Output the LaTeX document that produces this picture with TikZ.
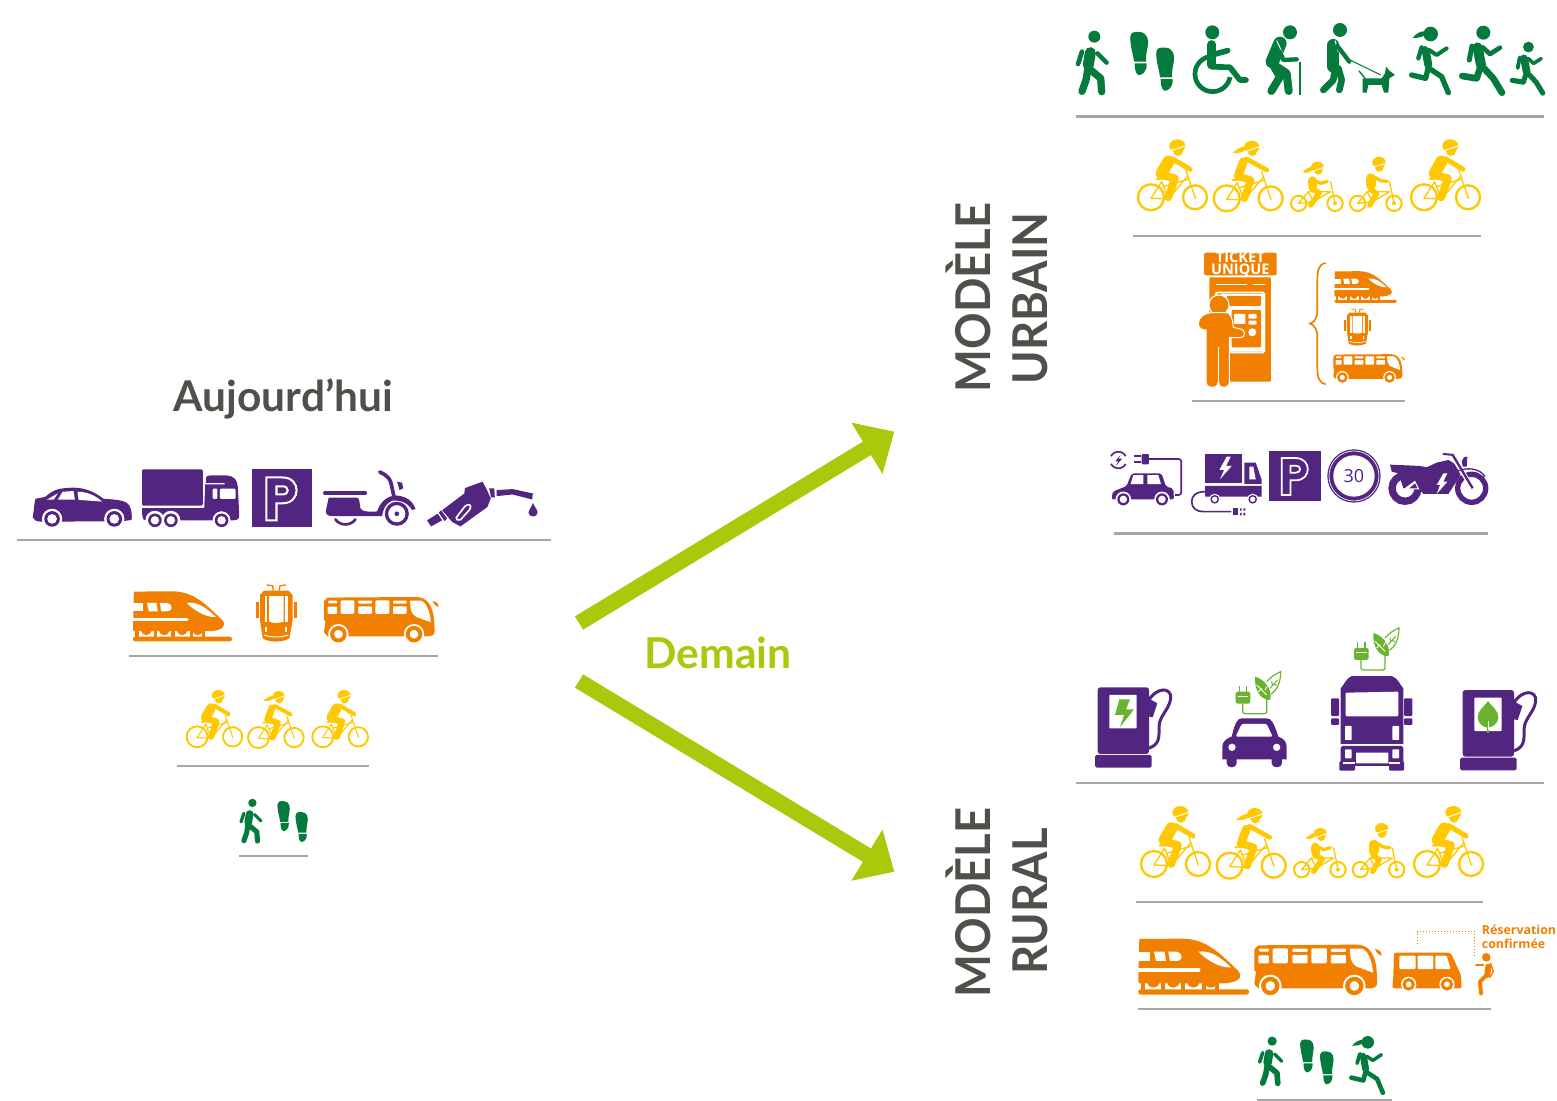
\documentclass[tikz,border=0pt]{standalone}
\usepackage{fontspec}
\setmainfont{Lato}
\newfontfamily\opensans{Open Sans}
\newfontfamily\sidefont[FakeStretch=0.945]{Lato}
\usetikzlibrary{arrows.meta}
\definecolor{purp}{HTML}{522581}
\definecolor{org}{HTML}{F18000}
\definecolor{yel}{HTML}{FFC800}
\definecolor{grn}{HTML}{047A3C}
\definecolor{leafg}{HTML}{69B42E}
\definecolor{arrowg}{HTML}{A9C90C}
\definecolor{txtg}{HTML}{50504B}
\definecolor{rulec}{HTML}{A6A6A6}
\tikzset{
 lw/.style={line width=#1*\icons*0.5pt},
 st/.style={line cap=round,line join=round},
 rc/.code={\pgfmathsetlengthmacro\rr{#1*\icons*0.5pt}\tikzset{rounded corners=\rr}},
 rulel/.style={draw=rulec,line width=1.1pt},
 bigarrow/.style={draw=arrowg,line width=7.8pt,-{Stealth[length=16pt,width=29pt,inset=0pt]}},
 sideword/.style={font=\sidefont\fontsize{24}{28}\selectfont\bfseries,text=txtg,rotate=90,inner sep=0pt,anchor=base},
}
\newcommand\place[4]{\begin{scope}[shift={(#2,#3)},scale=#4]\def\icons{#4}\csname ic#1\endcsname\end{scope}}
\newcommand\org[2]{\tikzset{shift={(-#1,-#2)}}}
% ---------- green figures
\newcommand\icwalk{\org{45}{60}
 \fill[grn] (103,80) circle[radius=18];
 \draw[grn,st,lw=33] (91,128)--(85,165);
 \draw[grn,st,lw=14] (66,125)--(54,162);
 \draw[grn,st,lw=13] (112,130)--(140,158);
 \draw[grn,st,lw=22] (84,175)--(78,210)--(66,244);
 \draw[grn,st,lw=22] (92,180)--(122,205)--(125,245);
}
\newcommand\oneshoe[2]{\begin{scope}[shift={(#1,#2)}]
 \fill[grn] (212,100) .. controls (205,60) and (225,66) .. (238,66) .. controls (262,66) and (268,90) .. (262,115) .. controls (258,135) and (258,145) .. (258,155) -- (222,155) .. controls (220,135) and (214,120) .. (212,100) -- cycle;
 \fill[grn] (224,160) -- (260,160) .. controls (262,185) and (245,197) .. (235,195) .. controls (226,190) and (224,175) .. (224,160) -- cycle;
\end{scope}}
\newcommand\icshoes{\org{210}{65}\oneshoe{0}{0}\oneshoe{78}{47}}
\newcommand\icwheel{\org{397}{45}
 \draw[grn,lw=14] (458,192) circle[radius=53];
 \fill[white] (458,190)--(440,110)--(545,110)--(545,208)--cycle;
 \fill[grn] (457,67) circle[radius=21];
 \draw[grn,st,lw=25] (455,103)--(455,165);
 \draw[grn,st,lw=17] (462,133)--(503,122);
 \draw[grn,st,lw=17] (455,170)--(510,172)--(540,210)--(558,210);
}
\newcommand\icelder{\org{615}{45}
 \fill[grn] (690,67) circle[radius=21];
 \draw[grn,st,lw=40] (660,100)--(637,155);
 \draw[grn,st,lw=24] (642,170)--(660,200)--(634,243);
 \draw[grn,st,lw=24] (650,170)--(680,190)--(686,243);
 \draw[white,lw=3] (650,92)--(668,130)--(675,150);
 \draw[grn,st,lw=13] (660,125)--(670,150)--(710,148);
 \draw[grn,lw=5] (720,155)--(720,255);
}
\newcommand\icdog{\org{780}{40}
 \fill[grn] (840,60) circle[radius=21];
 \draw[grn,st,lw=36] (820,105)--(820,170);
 \draw[grn,st,lw=20] (825,175)--(820,210)--(790,240);
 \draw[grn,st,lw=20] (835,175)--(845,210)--(838,240);
 \draw[white,lw=3] (825,92)--(835,125);
 \draw[grn,st,lw=13] (832,108)--(868,155);
 \draw[grn,lw=3] (870,150)--(962,195);
 \draw[grn,st,lw=4] (897,183)--(915,205);
 \fill[grn] (908,205)--(965,205)--(975,190)--(978,170)--(988,182)--(1005,195)--(988,205)--(985,248)--(972,248)--(965,225)--(925,225)--(920,248)--(908,248)--cycle;
}
\newcommand\icrunf{\org{1048}{50}
 \fill[grn] (1112,72) circle[radius=22];
 \fill[grn] (1095,64) .. controls (1082,62) and (1066,72) .. (1058,84) .. controls (1072,84) and (1085,82) .. (1094,76) -- cycle;
 \draw[grn,st,lw=24] (1097,120)--(1105,165);
 \draw[grn,st,lw=13] (1085,112)--(1075,145);
 \draw[white,lw=3] (1095,100)--(1118,128);
 \draw[grn,st,lw=12] (1108,120)--(1130,135)--(1160,115);
 \draw[grn,st,lw=16] (1105,172)--(1097,205)--(1055,195);
 \draw[grn,st,lw=16] (1112,178)--(1145,200)--(1165,248);
}
\newcommand\icrunm{\org{1198}{47}
 \fill[grn] (1270,68) circle[radius=21];
 \draw[grn,st,lw=30] (1253,112)--(1263,165);
 \draw[grn,st,lw=15] (1236,108)--(1228,150);
 \draw[white,lw=3] (1258,92)--(1285,130);
 \draw[grn,st,lw=14] (1268,112)--(1290,132)--(1320,113);
 \draw[grn,st,lw=20] (1260,175)--(1250,205)--(1207,198);
 \draw[grn,st,lw=20] (1272,175)--(1300,205)--(1326,248);
}
% ---------- bikes
\newcommand\bike[2]{\begin{scope}[shift={(#1,#2)}]
 \draw[yel,lw=7] (273,562) circle[radius=39];
 \draw[yel,lw=7] (405,562) circle[radius=36];
 \draw[yel,st,lw=4] (273,565)--(325,567)--(382,500);
 \draw[yel,st,lw=4] (273,565)--(305,515)--(325,567);
 \draw[yel,st,lw=4] (310,530)--(385,508);
 \draw[yel,st,lw=4] (378,482)--(406,565);
 \draw[yel,st,lw=6] (290,507)--(325,505);
\end{scope}}
\newcommand\iccycm{\org{228}{388}
 \bike{0}{0}
 \draw[yel,st,lw=36] (325,455)--(305,490);
 \draw[yel,st,lw=15] (338,447)--(390,478);
 \draw[yel,st,lw=23] (302,495)--(345,505)--(325,562);
 \fill[yel] (352,408) ellipse[x radius=24,y radius=20];
 \fill[yel] (354,423) circle[radius=15];
 \draw[white,lw=3] (333,422)--(375,408);
}
\newcommand\iccycf{\org{456}{392}
 \bike{227}{3}
 \draw[yel,st,lw=26] (550,455)--(537,490);
 \draw[yel,st,lw=14] (560,447)--(620,480);
 \draw[yel,st,lw=22] (532,498)--(572,510)--(553,565);
 \fill[yel] (575,411) ellipse[x radius=23,y radius=19];
 \fill[yel] (577,424) circle[radius=14];
 \draw[white,lw=3] (555,425)--(598,410);
 \fill[yel] (556,410) .. controls (545,408) and (530,418) .. (518,428) .. controls (532,431) and (546,428) .. (556,420) -- cycle;
}
\newcommand\kidbike[1]{\begin{scope}[shift={(#1,0)}]
 \draw[yel,lw=6] (716,580) circle[radius=23];
 \draw[yel,lw=6] (825,580) circle[radius=23];
 \fill[yel] (825,580) circle[radius=6];
 \draw[yel,st,lw=4] (716,580)--(760,575)--(812,545)--(745,545)--(716,580);
 \draw[yel,st,lw=4] (760,575)--(745,545);
 \draw[yel,st,lw=4] (812,515)--(825,580);
\end{scope}}
\newcommand\ickidf{\org{690}{455}
 \kidbike{0}
 \draw[yel,st,lw=26] (757,512)--(758,530);
 \draw[yel,st,lw=10] (765,512)--(782,520)--(802,514);
 \draw[yel,st,lw=16] (758,538)--(778,548)--(752,585);
 \fill[yel] (772,470) ellipse[x radius=19,y radius=15];
 \fill[yel] (775,482) circle[radius=12];
 \draw[white,lw=2.5] (755,484)--(792,472);
 \fill[yel] (757,470) .. controls (748,470) and (736,477) .. (728,487) .. controls (740,490) and (750,487) .. (758,480) -- cycle;
}
\newcommand\ickidm{\org{868}{440}
 \kidbike{177}
 \draw[yel,st,lw=30] (933,505)--(933,525);
 \draw[yel,st,lw=10] (945,502)--(962,512)--(982,514);
 \draw[yel,st,lw=16] (932,538)--(950,550)--(930,585);
 \fill[yel] (957,457) ellipse[x radius=20,y radius=17];
 \fill[yel] (958,472) circle[radius=13];
 \draw[white,lw=2.5] (936,472)--(978,460);
}
% ---------- orange vehicles
\newcommand\ictrain{\org{25}{115}
 \fill[org] (28,117) -- (160,116) .. controls (230,118) and (270,160) .. (325,213) .. controls (342,235) and (320,247) .. (285,250) -- (28,250) -- (25,245) -- cycle;
 \fill[white] (20,155) rectangle (60,183);
 \fill[white] (20,204) rectangle (205,215);
 \draw[white,lw=11,line cap=round] (40,209.5)--(206,209.5);
 \fill[white] (72,155) -- (104,155) -- (108,183) -- (78,183) -- cycle;
 \fill[white] (115,155) -- (140,155) .. controls (160,160) and (160,183) .. (140,183) -- (120,183) -- cycle;
 \fill[white] (205,155) .. controls (240,150) and (270,170) .. (303,202) .. controls (270,205) and (230,180) .. (205,155) -- cycle;
 \foreach \q in {38,100,160,222,262}{\fill[org] (\q-6,248) rectangle (\q+6,270);}
 \foreach \q in {70,130,190,242}{\fill[org] (\q-18,248) .. controls (\q-14,268) and (\q+14,268) .. (\q+18,248) -- cycle;}
 \fill[org,rc=7] (25,268) rectangle (357,284);
}
\newcommand\icbus{\org{373}{133}
 \fill[org] (385,136) -- (680,134) .. controls (715,134) and (735,160) .. (740,210) -- (742,248) .. controls (742,262) and (730,265) .. (720,265) -- (385,265) -- (373,252) -- (378,215) -- (373,210) -- (373,148) -- cycle;
 \fill[white] (421,258) circle[radius=34];
 \fill[white] (673,258) circle[radius=34];
 \draw[org,lw=13] (421,258) circle[radius=21];
 \draw[org,lw=13] (673,258) circle[radius=21];
 \fill[white,rc=3] (387,146) rectangle (417,155);
 \fill[white,rc=3] (385,166) rectangle (417,190);
 \fill[white,rc=4] (428,145) rectangle (474,190);
 \fill[white,rc=3] (487,146) rectangle (533,156);
 \fill[white,rc=3] (487,165) rectangle (533,190);
 \fill[white,rc=4] (544,145) rectangle (591,190);
 \fill[white,rc=3] (603,146) rectangle (648,156);
 \fill[white,rc=3] (603,165) rectangle (648,190);
 \fill[white] (660,146) -- (695,146) .. controls (715,150) and (728,190) .. (729,218) -- (680,200) .. controls (662,190) and (660,170) .. (660,146) -- cycle;
 \fill[org] (735,148) .. controls (748,148) and (755,155) .. (755,168) .. controls (748,165) and (740,160) .. (735,148) -- cycle;
}
\newcommand\ictram{\org{698}{372}
 \draw[org,lw=4] (730,375)--(748,377)--(750,392) (788,375)--(770,377)--(768,392);
 \fill[org] (722,392) -- (796,392) -- (808,405) -- (808,480) -- (798,535) .. controls (780,548) and (735,548) .. (718,535) -- (710,480) -- (710,405) -- cycle;
 \fill[org] (698,425) rectangle (706,475);
 \fill[org] (812,425) rectangle (820,475);
 \fill[white] (725,408) rectangle (732,485);
 \fill[white] (786,408) rectangle (793,485);
 \fill[white] (737,408) -- (781,408) -- (781,485) .. controls (770,490) and (748,490) .. (737,485) -- cycle;
 \fill[white] (726,500) rectangle (732,515);
 \fill[white] (784,500) rectangle (790,515);
 \draw[white,lw=3] (722,525) .. controls (745,533) and (772,533) .. (795,525);
}
\newcommand\icmini{\org{787}{158}
 \fill[org,rc=6] (792,158) -- (962,158) -- (993,225) -- (995,265) -- (787,265) -- (790,230) -- cycle;
 \fill[white] (836,253) circle[radius=23];
 \fill[white] (951,253) circle[radius=23];
 \draw[org,lw=9] (836,253) circle[radius=14];
 \draw[org,lw=9] (951,253) circle[radius=14];
 \fill[white,rc=3] (808,167) rectangle (857,207);
 \fill[white,rc=3] (863,167) rectangle (910,207);
 \fill[white,rc=3] (916,167) -- (950,167) -- (962,207) -- (916,207) -- cycle;
}
% ---------- purple vehicles
\newcommand\pwheel[3]{\fill[white] (#1,#2) circle[radius=#3*1.3];\fill[purp] (#1,#2) circle[radius=#3];\fill[white] (#1,#2) circle[radius=#3*0.62];}
\newcommand\icsedan{\org{38}{82}
 \fill[purp] (38,170) .. controls (42,150) and (42,130) .. (46,116) -- (75,110) .. controls (100,88) and (115,84) .. (160,83) .. controls (200,84) and (225,100) .. (247,116) .. controls (290,118) and (315,122) .. (322,135) .. controls (330,150) and (330,165) .. (329,178) -- (300,182) -- (60,183) .. controls (48,182) and (40,178) .. (38,170) -- cycle;
 \fill[white] (80,118) -- (112,100) -- (100,118) -- cycle;
 \fill[white] (112,118) -- (126,95) -- (158,93) -- (162,118) -- cycle;
 \fill[white] (170,95) .. controls (200,95) and (225,108) .. (242,124) -- (173,119) -- cycle;
 \pwheel{95}{175}{23}\pwheel{278}{175}{23}
}
\newcommand\iclorry{\org{362}{28}
 \fill[purp,rc=4] (362,28) rectangle (541,135);
 \fill[purp] (550,58) .. controls (550,48) and (555,46) .. (565,46) -- (610,46) .. controls (635,48) and (642,60) .. (644,80) -- (648,165) .. controls (648,175) and (640,178) .. (630,178) -- (372,178) .. controls (365,178) and (362,170) .. (362,142) -- (545,142) -- (548,72) -- (605,72) -- (605,68) -- (550,68) -- cycle;
 \fill[white,rc=3] (591,85) rectangle (637,115);
 \fill[white,rc=3] (570,85) rectangle (584,115);
 \fill[white] (400,178) circle[radius=28];\fill[white] (447,178) circle[radius=28];\fill[white] (596,178) circle[radius=26];
 \pwheel{400}{178}{20}\pwheel{447}{178}{20}\pwheel{596}{178}{20}
}
\newcommand\icpark{\org{685}{28}
 \fill[purp] (685,28) rectangle (860,198);
 \draw[white,lw=6] (727,52) -- (727,178) -- (757,178) -- (757,128) -- (775,128) .. controls (830,128) and (830,52) .. (775,52) -- cycle;
 \draw[white,lw=6] (757,78) -- (775,78) .. controls (795,78) and (795,102) .. (775,102) -- (757,102) -- cycle;
}
\newcommand\icscoot{\org{893}{30}
 \draw[purp,st,lw=12] (899,99)--(1019,99);
 \fill[purp] (910,113) -- (995,113) .. controls (1002,113) and (1002,125) .. (1005,145) .. controls (1010,157) and (1040,155) .. (1055,154) .. controls (1065,125) and (1085,108) .. (1110,106) .. controls (1140,108) and (1160,120) .. (1170,146) -- (1160,150) .. controls (1145,125) and (1120,120) .. (1100,122) .. controls (1080,130) and (1072,150) .. (1070,168) -- (920,168) .. controls (905,168) and (900,160) .. (902,150) -- cycle;
 \draw[purp,st,lw=11] (1063,36) .. controls (1090,48) and (1095,60) .. (1098,75) -- (1105,108);
 \fill[purp] (1115,65) -- (1130,68) -- (1133,85) -- (1122,90) -- cycle;
 \draw[purp,lw=10] (1114,161) circle[radius=31];
 \fill[purp] (1114,161) circle[radius=7];
 \draw[purp,st,lw=8] (930,178) .. controls (945,198) and (975,198) .. (990,178);
}
\newcommand\icnozzle{\org{1205}{65}
 \fill[purp] (1250,150) -- (1316,100) -- (1318,84) -- (1370,65) -- (1396,110) -- (1385,140) -- (1305,198) -- (1280,185) -- cycle;
 \fill[purp] (1205,180) -- (1237,160) -- (1250,180) -- (1217,198) -- cycle;
 \fill[purp] (1240,157) -- (1247,150) -- (1265,175) -- (1257,182) -- cycle;
 \fill[white] (1375,70) -- (1384,68) -- (1398,108) -- (1394,112) -- cycle;
 \fill[purp] (1390,85) -- (1405,85) -- (1407,112) -- (1396,112) -- cycle;
 \fill[purp] (1412,90) -- (1460,87) -- (1520,100) -- (1518,118) -- (1460,103) -- (1412,108) -- cycle;
 \draw[white,st,lw=5] (1292,172) -- (1318,138) .. controls (1330,128) and (1340,135) .. (1332,148) -- (1305,178) .. controls (1298,182) and (1290,178) .. (1292,172) -- cycle;
 \fill[purp] (1520,128) .. controls (1525,140) and (1535,150) .. (1534,158) .. controls (1532,172) and (1510,172) .. (1507,158) .. controls (1507,150) and (1517,140) .. (1520,128) -- cycle;
}
\newcommand\icevcar{\org{55}{635}
 \draw[purp,lw=5] (85,660) circle[radius=25];
 \fill[white] (85,660)--(125,640)--(125,680)--cycle;
 \fill[white] (85,660)--(45,640)--(45,680)--cycle;
 \fill[purp] (92,644)--(76,664)--(85,664)--(78,678)--(96,656)--(86,656)--cycle;
 \draw[purp,lw=5] (132,648)--(152,648) (132,666)--(152,666);
 \fill[purp,rc=3] (155,642) rectangle (177,673);
 \draw[purp,lw=5,rc=8] (177,657)--(274,657)--(274,765)--(255,765);
 \fill[purp,rc=6] (65,778)--(68,755)--(110,738)--(125,700)--(215,700)--(228,740)--(250,745)--(252,778)--cycle;
 \fill[white] (130,705)--(160,705)--(160,732)--(122,732)--cycle;
 \fill[white] (172,705)--(205,705)--(213,732)--(172,732)--cycle;
 \pwheel{100}{778}{18}\pwheel{216}{778}{18}
}
\newcommand\icevtruck{\org{302}{640}
 \fill[purp] (345,642) rectangle (457,728);
 \fill[white] (410,650)--(388,690)--(402,690)--(390,718)--(425,678)--(408,678)--(422,650)--cycle;
 \fill[purp] (463,668)--(497,668)--(515,720)--(515,770)--(345,770)--(345,738)--(515,738)--(515,732)--(463,732)--cycle;
 \fill[white] (478,680)--(490,680)--(497,718)--(478,718)--cycle;
 \pwheel{374}{778}{13}\pwheel{488}{778}{13}
 \draw[purp,lw=5,st] (345,755) .. controls (315,755) and (305,770) .. (305,785) .. controls (305,805) and (320,815) .. (340,815) -- (422,815);
 \fill[purp] (430,805) rectangle (443,825);
 \fill[purp] (450,805) rectangle (455,812) (450,819) rectangle (455,826) (460,805) rectangle (466,812) (460,819) rectangle (466,826);
}
\newcommand\icspeed{\org{712}{628}
 \fill[purp] (792,708) circle[radius=80];
 \draw[white,lw=2] (792,708) circle[radius=75];
 \fill[white] (792,708) circle[radius=62];
 \node[text=purp,inner sep=0pt,font=\opensans\fontsize{9}{10}\selectfont] (thirty) at (792,708) {30};
}
\newcommand\icmoto{\org{893}{640}
 \draw[purp,lw=22] (945,745) circle[radius=39];
 \draw[purp,lw=16] (1145,745) circle[radius=42];
 \fill[purp] (900,674) -- (990,678) -- (1010,682) -- (1040,668) -- (1075,660) -- (1095,672) -- (1112,705) -- (1075,762) -- (1000,762) -- (985,745) -- (940,745) -- (925,700) -- (905,695) -- cycle;
 \fill[white] (940,748) -- (975,722) -- (988,748) -- cycle;
 \fill[purp] (958,745) -- (975,730) -- (982,745) -- cycle;
 \fill[white] (1060,700) -- (1040,735) -- (1050,735) -- (1040,762) -- (1072,725) -- (1060,725) -- (1072,700) -- cycle;
 \draw[white,lw=14] (1088,650)--(1148,745);
 \draw[purp,lw=7] (1088,645)--(1148,745);
 \draw[purp,st,lw=6] (1060,642)--(1090,645);
 \fill[purp] (1115,665) .. controls (1120,650) and (1128,648) .. (1132,650) -- (1130,680) -- (1118,680) -- cycle;
 \draw[purp,lw=4] (1100,695) .. controls (1130,680) and (1170,685) .. (1185,710);
}
% ---------- chargers
\newcommand\chargerbase{
 \fill[purp,rc=8] (83,202) rectangle (237,402);
 \fill[purp,rc=5] (75,405) rectangle (245,443);
 \draw[purp,lw=9] (237,240) .. controls (250,215) and (290,195) .. (302,225) .. controls (305,260) and (275,280) .. (268,310) .. controls (265,345) and (275,370) .. (237,385);
 \fill[purp] (237,236) -- (262,250) -- (248,292) -- (237,290) -- cycle;
 \fill[white,rc=2] (118,225) rectangle (200,325);
}
\newcommand\icchgbolt{\org{75}{202}\chargerbase
 \fill[leafg] (148,238)--(180,238)--(168,268)--(192,268)--(150,322)--(162,285)--(135,285)--cycle;
}
\newcommand\icchgleaf{\org{75}{202}\chargerbase
 \fill[leafg] (159,236) .. controls (175,255) and (190,265) .. (190,285) .. controls (188,305) and (172,313) .. (159,315) .. controls (146,313) and (130,305) .. (128,285) .. controls (128,265) and (143,255) .. (159,236) -- cycle;
 \fill[leafg] (155,312) rectangle (163,330);
 \draw[white,lw=2] (159,295)--(159,322);
}
\newcommand\icplug{\org{497}{153}
 \draw[leafg,lw=4] (508,197)--(508,216) (530,197)--(530,216);
 \fill[leafg,rc=5] (497,215) rectangle (541,251);
 \draw[white,lw=2.5] (503,228)--(535,228);
 \draw[leafg,lw=4,rc=5] (518,250)--(518,281)--(590,281)--(590,235);
 \fill[leafg] (555,170) .. controls (590,180) and (608,215) .. (600,240) .. controls (575,240) and (552,215) .. (555,170) -- cycle;
 \draw[white,lw=2.5] (560,195)--(590,225) (575,205)--(565,215) (585,210)--(592,198);
 \draw[leafg,lw=3.5] (590,185) .. controls (602,170) and (620,160) .. (632,155) .. controls (632,185) and (622,210) .. (603,222);
 \draw[leafg,lw=3] (600,205)--(622,180) (607,196)--(605,184) (610,192)--(620,196);
}
\newcommand\iccarfront{\org{457}{295}
 \fill[purp] (515,295) -- (590,295) .. controls (605,295) and (612,310) .. (625,350) .. controls (640,355) and (650,365) .. (650,380) -- (650,418) -- (636,418) -- (636,430) .. controls (636,446) and (605,446) .. (605,430) -- (605,418) -- (500,418) -- (500,430) .. controls (500,446) and (470,446) .. (470,430) -- (470,418) -- (457,418) -- (457,380) .. controls (457,365) and (470,355) .. (485,350) .. controls (495,310) and (502,295) .. (515,295) -- cycle;
 \fill[white,rc=4] (515,312) -- (590,312) -- (608,350) -- (497,350) -- cycle;
 \fill[white] (486,382) circle[radius=11];
 \fill[white] (620,382) circle[radius=11];
}
\newcommand\ictruckfront{\org{783}{165}
 \fill[purp] (845,168) -- (965,168) .. controls (985,175) and (990,195) .. (1000,205) -- (1000,372) -- (812,372) -- (812,205) .. controls (822,195) and (828,175) .. (845,168) -- cycle;
 \fill[white,rc=3] (827,218) -- (985,215) -- (985,289) -- (827,289) -- cycle;
 \fill[purp,rc=3] (783,235) rectangle (807,288);
 \fill[purp,rc=3] (783,295) rectangle (807,315);
 \fill[purp,rc=3] (1002,235) rectangle (1027,288);
 \fill[purp,rc=3] (1002,295) rectangle (1027,315);
 \fill[white,rc=2] (825,318) rectangle (845,360);
 \fill[white,rc=2] (967,318) rectangle (987,360);
 \fill[purp,rc=5] (812,378) rectangle (1000,438);
 \fill[white,rc=2] (825,388) rectangle (845,415);
 \fill[white,rc=2] (967,388) rectangle (987,415);
 \fill[white,rc=2] (858,398) rectangle (955,430);
 \fill[purp,rc=3] (808,424) rectangle (855,452);
 \fill[purp,rc=3] (957,424) rectangle (1002,452);
 \fill[white] (820,426) rectangle (855,432);
 \fill[white] (957,426) rectangle (990,432);
}
\begin{document}
\begin{tikzpicture}[x=0.5pt,y=-0.5pt]
\useasboundingbox (0,0) rectangle (1557,1101);
% titles
\node[font=\fontsize{21.2}{25}\selectfont\bfseries,text=txtg,inner sep=0pt] (today) at (283.5,399) {Aujourd’hui};
\node[font=\fontsize{21.3}{25}\selectfont\bfseries,text=arrowg,inner sep=0pt] (tomorrow) at (718,653) {Demain};
\node[sideword] (mod1) at (990,297.5) {MODÈLE};
\node[sideword] (urb) at (1047,298.5) {URBAIN};
\node[sideword] (mod2) at (990,902.5) {MODÈLE};
\node[sideword] (rur) at (1047,901.5) {RURAL};
% arrows
\coordinate (fork1) at (579,623);
\coordinate (urbantip) at (894.3,431.7);
\coordinate (fork2) at (579,681);
\coordinate (ruraltip) at (894.3,871.7);
\draw[bigarrow] (fork1)--(urbantip);
\draw[bigarrow] (fork2)--(ruraltip);
% rules
\foreach \xa/\xb/\yy in {17/551/540,129/438/656,177/369/766,239/308/856,1076/1544/116.5,1133/1481/236,1192/1405/401,1114/1488/533.5,1076/1544/783,1136/1483/902,1138/1491/1009,1257/1392/1100}{
 \draw[rulel] (\xa,\yy)--(\xb,\yy);}
% left column
\place{sedan}{32.7}{487.3}{0.34}
\place{lorry}{142}{469.3}{0.34}
\place{park}{252}{469.3}{0.34}
\place{scoot}{323}{470}{0.334}
\place{nozzle}{427}{481.7}{0.336}
\place{train}{133}{591}{0.298}
\place{tram}{256}{584}{0.3333}
\place{bus}{324}{596.7}{0.3}
\place{cycm}{185}{690}{0.269}
\place{cycf}{246.7}{691}{0.269}
\place{cycm}{310.7}{690}{0.269}
\place{walk}{239}{798.3}{0.231}
\place{shoes}{277.3}{801}{0.231}
% urban: pedestrians
\place{walk}{1075}{30}{0.3333}
\place{shoes}{1130}{31.7}{0.3333}
\place{wheel}{1192.3}{25}{0.3333}
\place{elder}{1265}{25}{0.3333}
\place{dog}{1320}{23.3}{0.3333}
\place{runf}{1409.3}{26.7}{0.3333}
\place{runm}{1459.3}{25.7}{0.3333}
\place{runm}{1510}{41.7}{0.256}
% urban: cycles
\place{cycm}{1136}{139.3}{0.3333}
\place{cycf}{1212}{140.7}{0.3333}
\place{kidf}{1290}{161.7}{0.3333}
\place{kidm}{1349.3}{156.7}{0.3333}
\place{cycm}{1409}{139.3}{0.3333}
% urban: ticket machine
\begin{scope}[shift={(1090,240)},scale=0.3333]
\def\icons{0.3333}
 \fill[org,rc=4] (342,38) rectangle (560,106);
 \node[text=white,inner sep=0pt,align=center,font=\opensans\fontsize{7.3}{5.3}\selectfont\bfseries] (ticket) at (451,73) {TICKET\\UNIQUE};
 \fill[org,rc=3] (358,112) rectangle (543,425);
 \draw[white,lw=4] (378,133)--(470,133) (490,133)--(525,133);
 \fill[white,rc=5] (375,155) rectangle (525,340);
 \fill[org,rc=4] (380,160) rectangle (520,335);
 \fill[white,rc=4] (392,162) rectangle (525,335);
 \fill[org,rc=3] (410,168) rectangle (513,198);
 \fill[org,rc=3] (425,210) rectangle (513,322);
 \fill[white,rc=3] (432,222) rectangle (466,252);
 \fill[white,rc=3] (475,222) rectangle (500,236);
 \fill[white,rc=3] (475,242) rectangle (500,254);
 \fill[white] (487,277) circle[radius=12];
 \draw[white,lw=4] (387,195) circle[radius=30];
 \fill[org] (387,195) circle[radius=28];
 \fill[org,draw=white,lw=3] (325,250) .. controls (325,232) and (345,218) .. (365,218) -- (410,218) .. controls (420,218) and (428,235) .. (430,262) -- (455,268) .. controls (468,275) and (465,292) .. (452,293) -- (418,293) -- (418,425) .. controls (418,448) and (387,448) .. (386,428) -- (384,428) .. controls (384,448) and (348,448) .. (348,425) -- (348,270) .. controls (335,270) and (325,265) .. (325,250) -- cycle;
 \draw[white,lw=3] (385,320)--(385,430);
 \draw[org,lw=5] (707,69) .. controls (685,72) and (682,95) .. (682,120) -- (682,210) .. controls (682,235) and (672,248) .. (660,251) .. controls (672,254) and (682,268) .. (682,290) -- (682,385) .. controls (682,415) and (690,430) .. (707,433);
\end{scope}
\place{train}{1334.3}{271}{0.188}
\place{tram}{1344.3}{308.3}{0.216}
\place{bus}{1333.3}{354}{0.1876}
% urban: motor
\place{evcar}{1108.3}{451.7}{0.3333}
\place{evtruck}{1190.7}{453.3}{0.3333}
\place{park}{1269.3}{451}{0.2933}
\place{speed}{1327.3}{449.3}{0.3333}
\place{moto}{1387.7}{453.3}{0.3333}
% rural: motor
\place{chgbolt}{1095}{687.3}{0.3333}
\place{carfront}{1222.3}{718.3}{0.3333}
\place{plug}{1235.7}{671}{0.3333}
\place{truckfront}{1331}{675}{0.3333}
\place{plug}{1354}{627.3}{0.3333}
\place{chgleaf}{1460}{690}{0.3333}
% rural: cycles
\place{cycm}{1139}{806}{0.3333}
\place{cycf}{1215}{808}{0.3333}
\place{kidf}{1293}{828}{0.3333}
\place{kidm}{1352}{823}{0.3333}
\place{cycm}{1412}{806}{0.3333}
% rural: transit
\place{train}{1138.3}{938.3}{0.3333}
\place{bus}{1254.3}{944.3}{0.3333}
\place{mini}{1392.3}{952.7}{0.3333}
\begin{scope}[shift={(1130,900)},scale=0.3333]
\def\icons{0.3333}
 \coordinate (dota) at (862,132);\coordinate (dotb) at (862,95);\coordinate (dotc) at (1035,95);\coordinate (dotd) at (1035,172);
 \draw[org,lw=3,densely dotted] (dota)--(dotb)--(dotc)--(dotd);
 \fill[org] (1069,172) circle[radius=13];
 \draw[org,st,lw=18] (1075,200)--(1072,225);
 \draw[org,st,lw=5] (1060,195)--(1038,195);
 \draw[org,st,lw=12] (1070,225)--(1050,245)--(1053,280);
 \draw[org,st,lw=4] (1082,190)--(1090,215)--(1080,232);
\end{scope}
\node[text=org,anchor=north west,inner sep=0pt,align=left,font=\opensans\fontsize{6.2}{6.9}\selectfont\bfseries] (resa) at (1481.5,924.5) {Réservation\\confirmée};
% rural: walkers
\place{walk}{1257.3}{1036}{0.256}
\place{shoes}{1300}{1039.3}{0.254}
\place{runf}{1349.3}{1036}{0.287}
\end{tikzpicture}
\end{document}
